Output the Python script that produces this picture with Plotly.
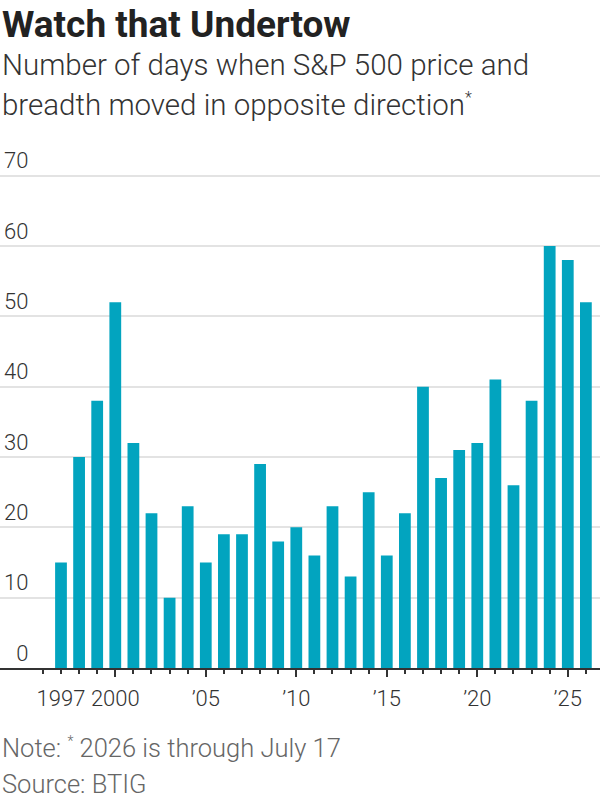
import plotly.graph_objects as go

years = list(range(1997, 2027))
days = [15, 30, 38, 52, 32, 22, 10, 23, 15, 19,
        19, 29, 18, 20, 16, 23, 13, 25, 16, 22,
        40, 27, 31, 32, 41, 26, 38, 60, 58, 52]

x_label_vals = [1997, 2000, 2005, 2010, 2015, 2020, 2025]
x_label_text = ["1997", "2000", "\u201905", "\u201910", "\u201915", "\u201920", "\u201925"]
major_tick_vals = [2000, 2005, 2010, 2015, 2020, 2025]
y_tick_vals = [0, 10, 20, 30, 40, 50, 60, 70]
y_tick_text = ["\u20070", "10", "20", "30", "40", "50", "60", "70"]

title = "Watch that Undertow"
subtitle1 = "Number of days when S&P 500 price and"
subtitle2 = "breadth moved in opposite direction<sup><span style='font-size:16px'>*</span></sup>"
note = "Note: <sup><span style='font-size:14px'>*</span></sup> 2026 is through July 17"
source = "Source: BTIG"

W, H = 600, 800
B = 132
Y0_PX = H - B          # pixel row of value 0
PX_PER_UNIT = 492 / 70  # 70 -> pixel row 176
YR = [0, 74.5]
T = int(round(Y0_PX - YR[1] * PX_PER_UNIT))
PH = H - T - B
FONT = "Roboto"
XR = [1993.63, 2026.78]


def py(p):
    return (H - B - p) / PH


fig = go.Figure()
fig.add_trace(go.Bar(x=years, y=days, marker=dict(color="#02a4bf", line=dict(width=0)),
                     hoverinfo="skip"))
fig.add_trace(go.Scatter(x=years, y=days, xaxis="x2", mode="markers",
                         marker=dict(opacity=0), hoverinfo="skip", showlegend=False))

fig.update_layout(
    width=W, height=H,
    margin=dict(l=0, r=0, t=T, b=B, pad=0),
    paper_bgcolor="white", plot_bgcolor="white",
    showlegend=False,
    bargap=0.35,
    font=dict(family=FONT, color="#333"),
    xaxis=dict(
        range=XR, tickmode="array", tickvals=x_label_vals, ticktext=x_label_text,
        ticks="outside", ticklen=4, tickwidth=2, tickcolor="#333",
        showline=True, linecolor="#333", linewidth=2,
        showgrid=False, zeroline=False,
        tickfont=dict(family=FONT, size=22, color="#333", weight=300),
        ticklabelstandoff=6,
        minor=dict(dtick=1, tick0=1997, ticks="outside", ticklen=4, tickwidth=2,
                   tickcolor="#333", showgrid=False),
    ),
    xaxis2=dict(
        range=XR, overlaying="x", anchor="y", side="bottom",
        tickmode="array", tickvals=major_tick_vals,
        ticks="outside", ticklen=8, tickwidth=2, tickcolor="#333",
        showticklabels=False, showgrid=False, showline=False, zeroline=False,
    ),
    yaxis=dict(
        range=YR, tickmode="array", tickvals=y_tick_vals, ticktext=y_tick_text,
        ticks="", ticklabelposition="inside", ticklabelshift=-15, ticklabelstandoff=1,
        showgrid=True, gridcolor="#e3e3e3", gridwidth=1.5,
        zeroline=False, showline=False,
        tickfont=dict(family=FONT, size=22, color="#333", weight=300),
    ),
)

ann = [
    dict(text="<b>" + title + "</b>", y=py(25), size=37, color="#222", weight=None),
    dict(text=subtitle1, y=py(65), size=29.5, color="#333", weight=300),
    dict(text=subtitle2, y=py(105), size=29.5, color="#333", weight=300),
    dict(text=note, y=py(748), size=25.5, color="#666", weight=300),
    dict(text=source, y=py(784), size=25.5, color="#666", weight=300),
]
for a in ann:
    fig.add_annotation(
        text=a["text"], xref="paper", yref="paper", x=0, y=a["y"],
        xanchor="left", yanchor="middle", showarrow=False, align="left",
        font=dict(family=FONT, size=a["size"], color=a["color"], weight=a["weight"]),
    )

fig.write_html("out.html")
